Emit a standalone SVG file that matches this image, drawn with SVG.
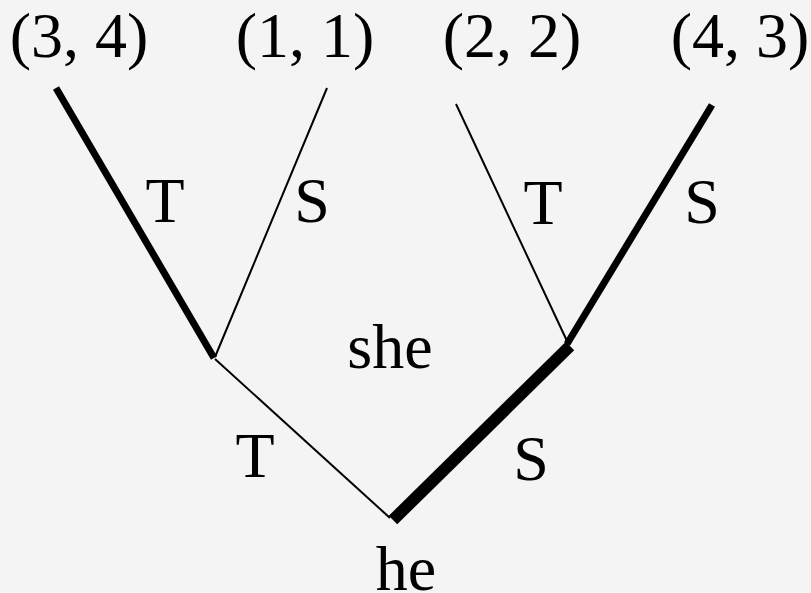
<svg xmlns="http://www.w3.org/2000/svg" width="811" height="593" viewBox="0 0 811 593">
<style>
text{font-family:"Liberation Serif","Times New Roman",serif;font-size:64px;fill:#000;text-anchor:middle}
line{stroke:#000;stroke-linecap:butt}
.thin{stroke-width:2}
.thick{stroke-width:7}
.xthick{stroke-width:12}
</style>
<rect width="811" height="593" fill="#f4f4f4"/>
<g id="connectors">
<line class="thick" x1="56" y1="88" x2="214" y2="358"/>
<line class="thin" x1="327" y1="88" x2="215" y2="357"/>
<line class="thin" x1="215" y1="359" x2="390" y2="518"/>
<line class="xthick" x1="393" y1="520" x2="570" y2="346"/>
<line class="thin" x1="456" y1="104" x2="567" y2="341"/>
<line class="thick" x1="712" y1="105" x2="567" y2="344"/>
<text x="165" y="222">T</text>
<text x="312" y="222">S</text>
<text x="543" y="224">T</text>
<text x="702" y="223">S</text>
<text x="255" y="477">T</text>
<text x="531" y="480">S</text>
</g>
<g id="leaf1"><text x="79" y="57">(3, 4)</text></g>
<g id="leaf2"><text x="305" y="57">(1, 1)</text></g>
<g id="leaf3"><text x="512" y="57">(2, 2)</text></g>
<g id="leaf4"><text x="740" y="57">(4, 3)</text></g>
<g id="she"><text x="390" y="368">she</text></g>
<g id="he"><text x="406" y="590">he</text></g>
</svg>
